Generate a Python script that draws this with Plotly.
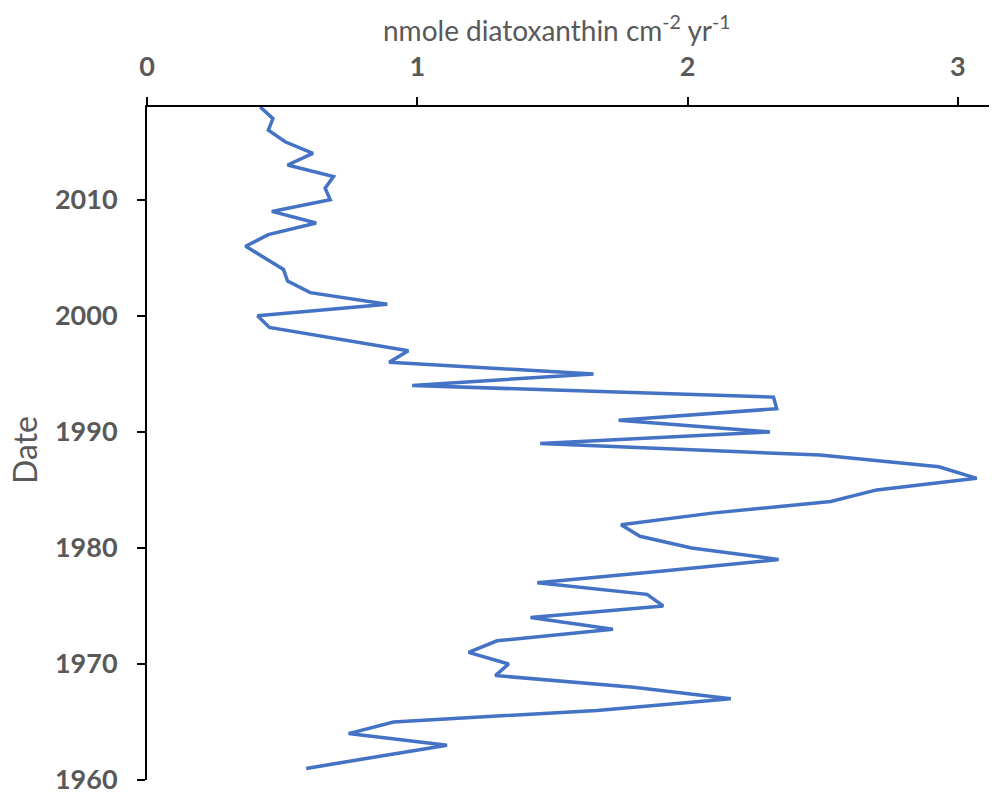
import plotly.graph_objects as go

years = list(range(2018, 1960, -1))
values = [0.419, 0.466, 0.449, 0.511, 0.614, 0.520, 0.690, 0.659, 0.678, 0.462,
          0.626, 0.449, 0.365, 0.437, 0.505, 0.520, 0.604, 0.889, 0.409, 0.453,
          0.71, 0.967, 0.896, 1.652, 0.981, 2.318, 2.33, 1.745, 2.305, 1.455,
          2.49, 2.93, 3.07, 2.70, 2.53, 2.09, 1.754, 1.824, 2.015, 2.337,
          1.90, 1.444, 1.85, 1.91, 1.419, 1.724, 1.295, 1.19, 1.338, 1.289,
          1.80, 2.16, 1.665, 0.912, 0.746, 1.11, 0.85, 0.589]

x_ticks = [0, 1, 2, 3]
y_ticks = [1960, 1970, 1980, 1990, 2000, 2010]

gray = "#595959"
fig = go.Figure(go.Scatter(x=values, y=years, mode="lines",
                           line=dict(color="#4472C4", width=3.5)))

fig.update_layout(
    width=989, height=786,
    margin=dict(l=139, r=0, t=99, b=14),
    plot_bgcolor="white", paper_bgcolor="white",
    showlegend=False,
    font=dict(family="Lato", color=gray),
    xaxis=dict(side="top", range=[0, 3.145], tickvals=x_ticks,
               showgrid=False, zeroline=False, showline=True,
               linecolor="black", linewidth=2,
               ticks="outside", ticklen=8, tickwidth=2, tickcolor="black",
               tickfont=dict(family="Lato", size=27, color=gray, weight="bold"),
               ticklabelstandoff=10, ticklabeloverflow="allow"),
    yaxis=dict(range=[1960, 2018], tickvals=y_ticks,
               showgrid=False, zeroline=False, showline=True,
               linecolor="black", linewidth=2,
               ticks="outside", ticklen=8, tickwidth=2, tickcolor="black",
               tickfont=dict(family="Lato", size=27, color=gray, weight="bold"),
               ticklabelstandoff=14, ticklabeloverflow="allow"),
    annotations=[
        dict(text="nmole diatoxanthin cm<sup>-2</sup> yr<sup>-1</sup>",
             xref="paper", yref="paper", x=0.482, y=1.117,
             xanchor="center", yanchor="middle", showarrow=False,
             font=dict(family="Lato", size=28, color=gray)),
        dict(text="Date", xref="paper", yref="paper", x=-0.145, y=0.490,
             xanchor="center", yanchor="middle", showarrow=False, textangle=-90,
             font=dict(family="Lato", size=32, color=gray)),
    ],
)

fig.write_html("out.html")
